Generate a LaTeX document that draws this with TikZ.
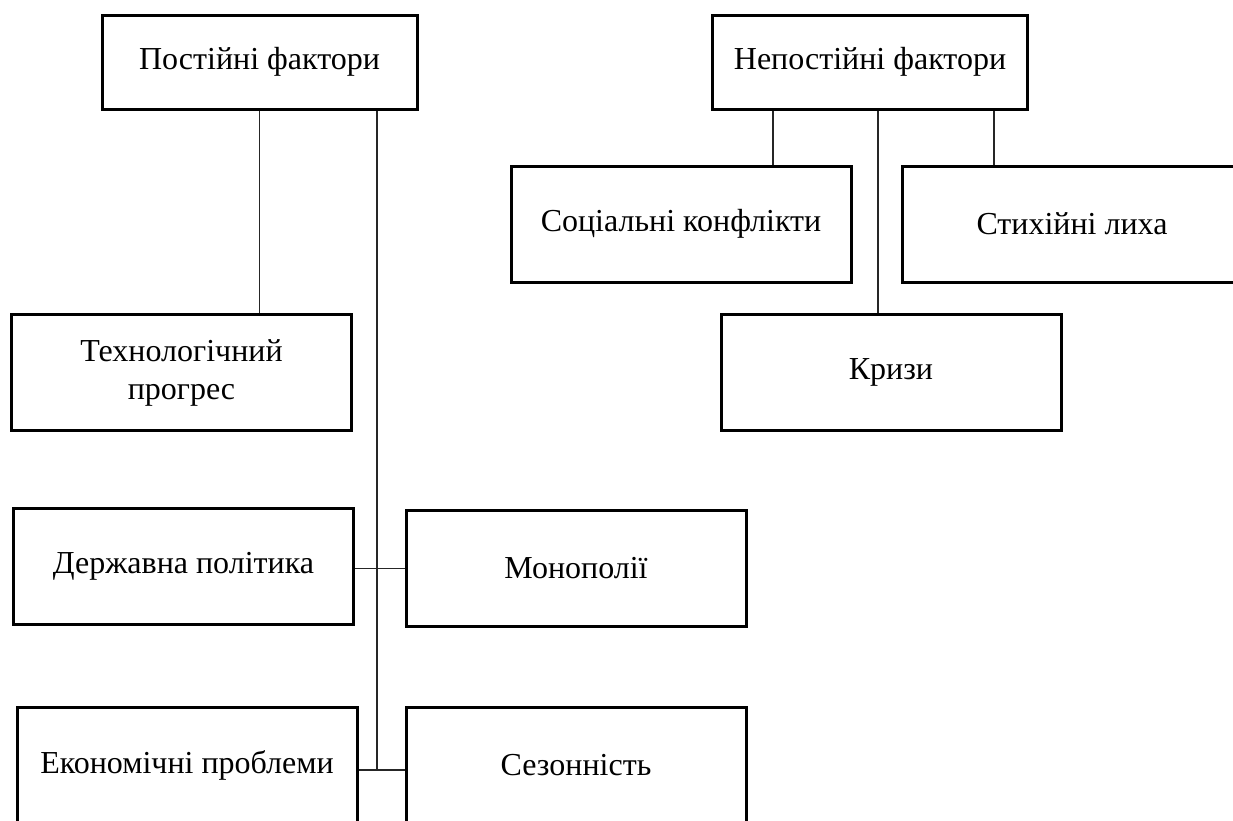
\documentclass[tikz,border=0pt]{standalone}
\usepackage{fontspec}
\setmainfont{Liberation Serif}
\begin{document}
\begin{tikzpicture}[x=1pt,y=-1pt,
 box/.style={draw=black, line width=3pt, fill=white, minimum width=340pt, minimum height=116pt, inner sep=2pt, align=center, font=\fontsize{32}{38}\selectfont},
 head/.style={box, minimum width=315pt, minimum height=94pt},
 conn/.style={draw=black!85, line width=1.4pt}]
\useasboundingbox (0,0) rectangle (1233,820);
\clip (0,0) rectangle (1233,820);
\node[head] (post) at (259.5,62) {Постійні фактори};
\node[head] (nepost) at (870,62) {Непостійні фактори};
\node[box] (soc) at (681,224) {Соціальні конфлікти};
\node[box] (styx) at (1072,224) {Стихійні лиха};
\node[box] (kryz) at (891,372.5) {Кризи};
\node[box] (tech) at (181.5,372.5) {Технологічний\\прогрес};
\node[box] (derzh) at (183.5,566.5) {Державна політика};
\node[box] (mono) at (576,568.5) {Монополії};
\node[box] (econ) at (187,765) {Економічні проблеми};
\node[box] (sez) at (576,765) {Сезонність};
\coordinate (trunk) at (377,770);
\coordinate (ca) at (773,0);
\coordinate (cb) at (878,0);
\coordinate (cc) at (994,0);
\draw[conn] (post.south) -- (post.south |- tech.north);
\draw[conn] (post.south -| trunk) -- (trunk);
\draw[conn] (derzh.east |- mono.west) -- (mono.west);
\draw[conn] (econ.east |- trunk) -- (sez.west |- trunk);
\draw[conn] (nepost.south -| ca) -- (soc.north -| ca);
\draw[conn] (nepost.south -| cb) -- (kryz.north -| cb);
\draw[conn] (nepost.south -| cc) -- (styx.north -| cc);
\end{tikzpicture}
\end{document}
